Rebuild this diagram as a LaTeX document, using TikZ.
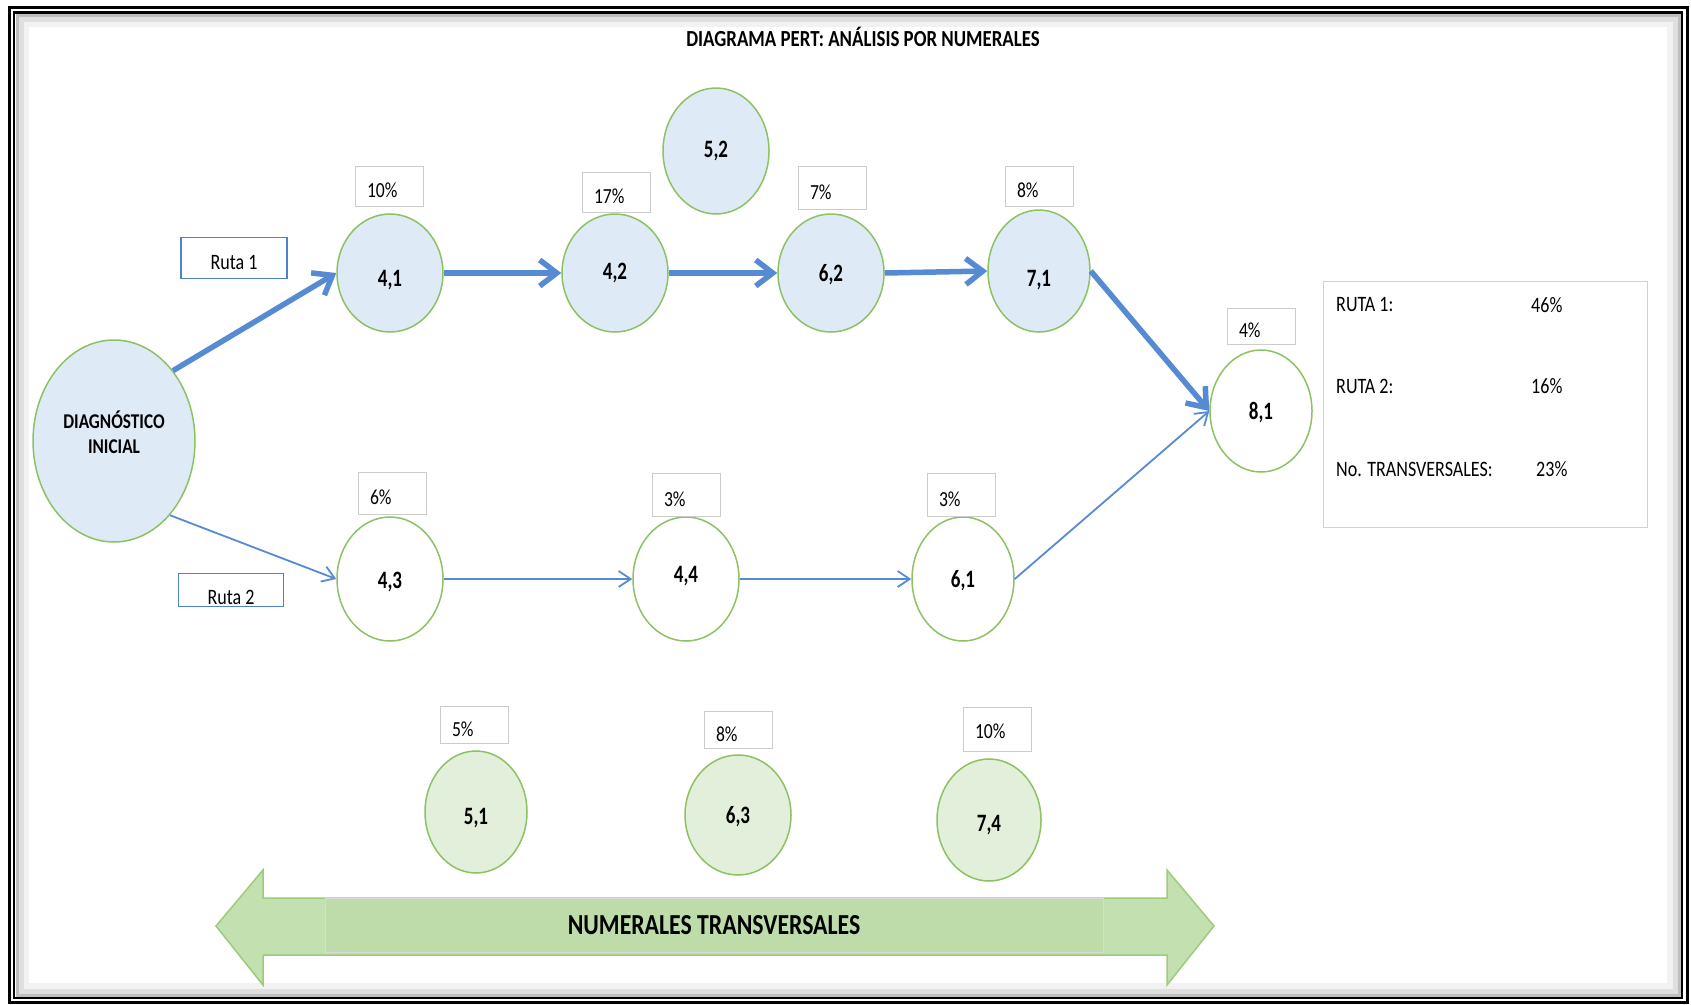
\documentclass[tikz,border=0pt]{standalone}
\usepackage{fontspec}
\setmainfont{Carlito}[FakeStretch=0.82]
\newfontfamily\etiqfont{Carlito}[FakeStretch=0.76]
\usepackage{xcolor}
\usepackage{tikz}
\usetikzlibrary{arrows.meta, shapes.geometric, positioning}

\definecolor{azulflecha}{RGB}{86,139,211}
\definecolor{azulnodo}{RGB}{223,234,247}
\definecolor{azulruta}{RGB}{79,129,200}
\definecolor{verdeborde}{RGB}{140,194,100}
\definecolor{verdenodo}{RGB}{226,239,218}
\definecolor{verdeflecha}{RGB}{194,224,176}
\definecolor{verdecentro}{RGB}{189,220,169}

\newcommand{\bajar}[2]{\raisebox{-#1}[\height][\depth]{#2}}

\tikzset{
    nodo/.style={ellipse, draw=verdeborde, line width=1.5pt, fill=azulnodo,
        minimum width=106pt, minimum height=118pt, inner sep=0pt,
        font=\etiqfont\fontsize{25}{27}\selectfont\bfseries},
    trans/.style={nodo, fill=verdenodo},
    pct/.style={draw=gray!40, line width=1pt, fill=white, minimum height=40pt,
        text width=44pt, inner xsep=12pt, align=left,
        text height=23pt, text depth=0pt,
        font=\fontsize{21.5}{22}\selectfont},
    ruta/.style={draw=azulruta, line width=1.5pt, fill=white,
        minimum width=106pt, minimum height=40pt},
    gruesa/.style={draw=azulflecha, line width=5.5pt,
        -{Straight Barb[length=17pt, width=26pt]}},
    delgada/.style={draw=azulflecha, line width=1.8pt,
        -{Straight Barb[length=12pt, width=16pt]}},
    leyendatxt/.style={anchor=west, inner sep=0pt}
}

\begin{document}
\begin{tikzpicture}[x=1pt, y=-1pt, font=\fontsize{22}{26}\selectfont]
                            \useasboundingbox (0,0) rectangle (1691,1004);

                            \draw[gray!10, line width=6pt] (26,24) rectangle (1670,986);
                            \draw[gray!25, line width=5pt] (21,19) rectangle (1675,991);
                            \draw[gray!50, line width=3pt] (17.5,15.5) rectangle (1679,995);
                            \draw[black, line width=3pt] (9.5,7.5) rectangle (1687,1002);
                            \draw[black, line width=2.5pt] (14,12.5) rectangle (1682,998);

                            \node[font=\fontsize{23}{26}\selectfont\bfseries] (titulo) at (863,37) {DIAGRAMA PERT: ANÁLISIS POR NUMERALES};

                            \node[nodo, minimum width=162pt, minimum height=202pt,
                                font=\fontsize{21}{25}\selectfont\bfseries] (di) at (114,441)
                                {\raisebox{5pt}[\height][\depth]{\begin{tabular}{@{}c@{}}DIAGNÓSTICO\\INICIAL\end{tabular}}};
                            \node[nodo] (n41) at (390,273) {\bajar{7pt}{4,1}};
                            \node[nodo] (n42) at (615,273) {4,2};
                            \node[nodo, minimum height=126pt] (n52) at (716,151) {5,2};
                            \node[nodo] (n62) at (831,273) {\bajar{2pt}{6,2}};
                            \node[nodo, minimum width=102pt, minimum height=122pt] (n71) at (1039,271) {\bajar{9pt}{7,1}};
                            \node[nodo, fill=white, minimum width=102pt, minimum height=122pt] (n81) at (1261,411) {\bajar{2pt}{8,1}};
                            \node[nodo, fill=white, minimum height=124pt] (n43) at (390,579) {\bajar{3pt}{4,3}};
                            \node[nodo, fill=white, minimum height=124pt] (n44) at (686,579) {\bajar{-3pt}{4,4}};
                            \node[nodo, fill=white, minimum width=102pt, minimum height=124pt] (n61) at (963,579) {\bajar{2pt}{6,1}};
                            \node[trans, minimum width=102pt, minimum height=122pt] (n51) at (476,812) {\bajar{6pt}{5,1}};
                            \node[trans, minimum height=120pt] (n63) at (738,815) {\bajar{2pt}{6,3}};
                            \node[trans, minimum width=104pt, minimum height=122pt] (n74) at (989,820) {\bajar{5pt}{7,4}};

                            \node[pct] (p41) at (389,186) {10\%};
                            \node[pct] (p42) at (616,192) {17\%};
                            \node[pct, minimum height=43pt] (p62) at (832,188) {7\%};
                            \node[pct] (p71) at (1039,186) {8\%};
                            \node[pct, minimum height=36pt] (p81) at (1261,326) {4\%};
                            \node[pct, minimum height=42pt] (p43) at (392,493) {6\%};
                            \node[pct, minimum height=43pt] (p44) at (686,495) {3\%};
                            \node[pct, minimum height=43pt] (p61) at (961,495) {3\%};
                            \node[pct, minimum height=37pt] (p51) at (474,725) {5\%};
                            \node[pct, minimum height=37pt] (p63) at (738,730) {8\%};
                            \node[pct, minimum height=44pt, text height=18pt] (p74) at (997,729) {10\%};

                            \node[ruta, minimum height=41pt] (ruta1) at (234,258) {\bajar{4pt}{Ruta 1}};
                            \node[ruta, minimum width=105pt, minimum height=33pt] (ruta2) at (231,590) {\bajar{7pt}{Ruta 2}};

                            \draw
                            (di.50) edge[gruesa] (n41.west)
                            (n41) edge[gruesa] (n42)
                            (n42) edge[gruesa] (n62)
                            (n62.east) edge[gruesa] (n71.west)
                            (n71.east) edge[gruesa] (n81.west)
                            (di.-53) edge[delgada] (n43.west)
                            (n43) edge[delgada] (n44)
                            (n44) edge[delgada] (n61)
                            (n61.east) edge[delgada] (n81.west);

                            \node[draw=gray!35, line width=1pt, minimum width=324pt, minimum height=246pt] (leyenda) at (1485,404) {};
                            \node[leyendatxt] (r1) at (1336,305) {RUTA 1:};
                            \node[leyendatxt] (v1) at (1531,305) {46\%};
                            \node[leyendatxt] (r2) at (1336,386) {RUTA 2:};
                            \node[leyendatxt] (v2) at (1531,386) {16\%};
                            \node[leyendatxt] (r3) at (1336,469) {No. TRANSVERSALES:};
                            \node[leyendatxt] (v3) at (1536,469) {23\%};

                            \draw[fill=verdeflecha, draw=verdeborde!85, line width=1.5pt, line join=miter]
                            (216,926) -- (263,870) -- (263,898) -- (1167,898) -- (1167,870) -- (1214,926)
                            -- (1167,985) -- (1167,955) -- (263,955) -- (263,985) -- cycle;
                            \node[fill=verdecentro, draw=gray!30, line width=0.8pt, minimum width=778pt, minimum height=54pt,
                                font=\fontsize{29}{30}\selectfont\bfseries] (numerales) at (714,925) {NUMERALES TRANSVERSALES};
                        \end{tikzpicture}
\end{document}
